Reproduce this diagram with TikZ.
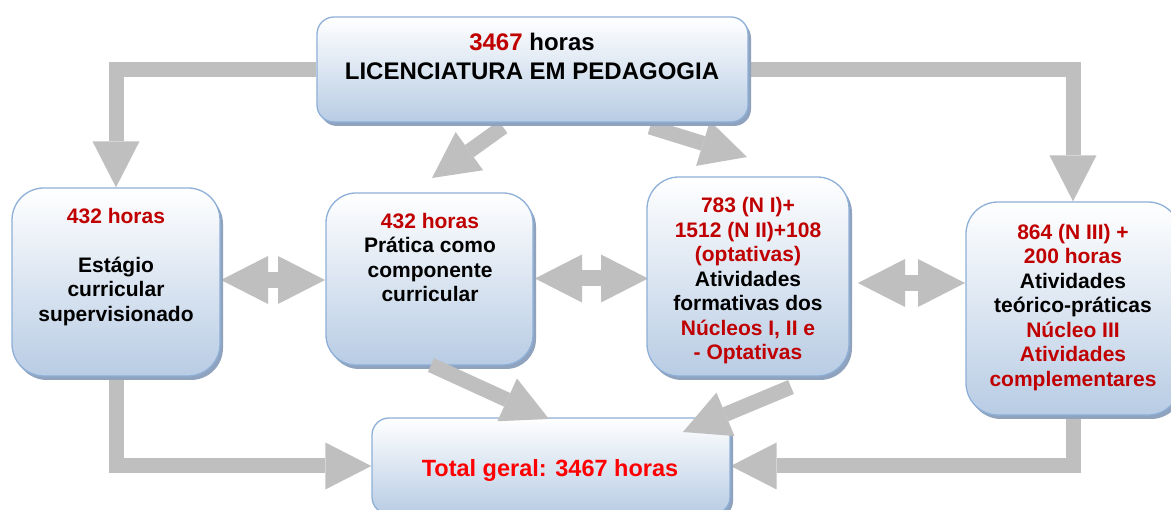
\documentclass[tikz,border=0pt]{standalone}
\usepackage{fontspec}
\setmainfont{Liberation Sans}
\usetikzlibrary{arrows.meta,shadows,backgrounds}
\definecolor{boxblue}{HTML}{B8CCE4}
\definecolor{boxline}{HTML}{8EB0D8}
\definecolor{shadowc}{HTML}{8FA3BE}
\definecolor{agray}{HTML}{BFBFBF}
\definecolor{dred}{HTML}{C00000}
\definecolor{bred}{HTML}{FF0000}
\tikzset{
  box/.style={draw=boxline, line width=1.3pt, rounded corners=#1,
    top color=white, bottom color=boxblue, inner sep=0pt,
    drop shadow={shadow xshift=3pt, shadow yshift=-4pt, fill=shadowc, opacity=1}},
  blk/.style={draw=agray, line width=15pt,
    -{Triangle[width=47pt,length=46pt,line width=0pt]}},
  dbl/.style={draw=agray, line width=16pt,
    {Triangle[width=48pt,length=47pt,line width=0pt]}-{Triangle[width=48pt,length=47pt,line width=0pt]}},
  txt/.style={align=center, inner sep=0pt, font=\fontsize{21}{24.5}\selectfont\bfseries}
}
\begin{document}
\begin{tikzpicture}[x=1pt,y=-1pt]
\useasboundingbox (0,0) rectangle (1171,510);
\clip (0,0) rectangle (1171,510);
% boxes
\node[box=17pt, minimum width=431pt, minimum height=105pt] (top) at (532.5,69.5) {};
\node[box=32pt, minimum width=208pt, minimum height=188pt] (left) at (116,282) {};
\node[box=30pt, minimum width=207pt, minimum height=172pt] (prat) at (429.5,279) {};
\node[box=32pt, minimum width=202pt, minimum height=199pt] (form) at (748,276.5) {};
\node[box=32pt, minimum width=214pt, minimum height=213pt] (comp) at (1073,308.5) {};
\node[box=17pt, minimum width=358pt, minimum height=96pt] (tot) at (551,466) {};
% free ends of the block arrows
\coordinate (a1s) at (503,127); \coordinate (a1e) at (432,178);
\coordinate (a2s) at (650,127); \coordinate (a2e) at (747,157);
\coordinate (a3s) at (431,365); \coordinate (a3e) at (549,419);
\coordinate (a4s) at (791,387); \coordinate (a4e) at (683,432);
\coordinate (b1s) at (221,280); \coordinate (b1e) at (325,280);
\coordinate (b2s) at (535,278.5); \coordinate (b2e) at (648,278.5);
\coordinate (b3s) at (858,283); \coordinate (b3e) at (965,283);
\begin{pgfonlayer}{background}
\fill[white] (0,0) rectangle (1171,510);
\draw[blk] (top.west) -| (left.north);
\draw[blk] (top.east) -| (comp.north);
\draw[blk] (left.south) |- (tot.west);
\draw[blk] (comp.south) |- (tot.east);
\draw[blk] (a1s) -- (a1e);
\draw[blk] (a2s) -- (a2e);
\draw[dbl] (b1s) -- (b1e);
\draw[dbl] (b2s) -- (b2e);
\draw[dbl] (b3s) -- (b3e);
\end{pgfonlayer}
\draw[blk] (a3s) -- (a3e);
\draw[blk] (a4s) -- (a4e);
% texts
\node[txt, font=\fontsize{24}{29}\selectfont\bfseries] (ttop) at (532,56.5)
  {\textcolor{dred}{3467} horas\\LICENCIATURA EM PEDAGOGIA};
\node[txt] (tleft) at (116,267)
  {\textcolor{dred}{432 horas}\\[24.5pt]Estágio\\curricular\\supervisionado};
\node[txt] (tprat) at (430,257.5)
  {\textcolor{dred}{432 horas}\\Prática como\\componente\\curricular};
\node[txt] (tform) at (748,281)
  {\textcolor{dred}{783 (N I)+}\\\textcolor{dred}{1512 (N II)+108}\\\textcolor{dred}{(optativas)}\\Atividades\\formativas dos\\\textcolor{dred}{Núcleos I, II e}\\\textcolor{dred}{- Optativas}};
\node[txt] (tcomp) at (1073,307.5)
  {\textcolor{dred}{864 (N III) +}\\\textcolor{dred}{200 horas}\\Atividades\\teórico-práticas\\\textcolor{dred}{Núcleo III}\\\textcolor{dred}{Atividades}\\\textcolor{dred}{complementares}};
\node[txt, font=\fontsize{23.5}{28}\selectfont\bfseries] (ttot) at (550,470)
  {\textcolor{bred}{Total geral: 3467 horas}};
\end{tikzpicture}
\end{document}
